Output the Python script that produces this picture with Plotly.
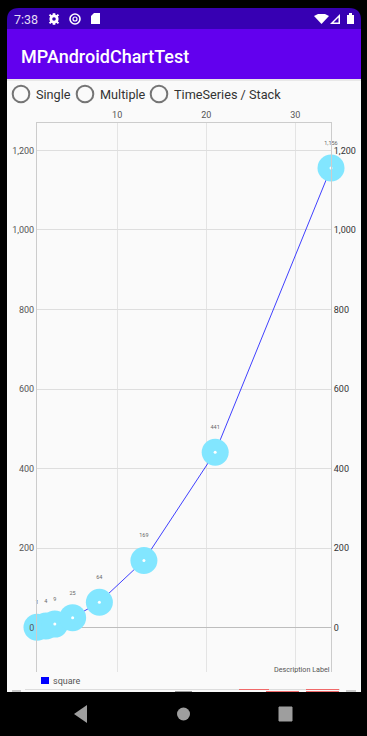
import plotly.graph_objects as go

W, H = 367, 736
x_values = [1, 2, 3, 5, 8, 13, 21, 34]
y_values = [1, 4, 9, 25, 64, 169, 441, 1156]
series_name = "square"
x_ticks = [10, 20, 30]
y_ticks = [0, 200, 400, 600, 800, 1000, 1200]
radio_labels = ["Single", "Multiple", "TimeSeries / Stack"]

PL, PR, PT, PB = 37, 331, 123, 672
XR = [1, 34]
YR = [-111.5, 1269]
FONT = "Roboto"

def px(x):
    return x / W

def py(y):
    return 1 - y / H

def rect(x0, y0, x1, y1, fill):
    return dict(type="rect", xref="paper", yref="paper", x0=px(x0), x1=px(x1), y0=py(y0), y1=py(y1),
                fillcolor=fill, line_width=0, layer="below")

def circ(cx, cy, r, fill="rgba(0,0,0,0)", line=None, lw=0):
    return dict(type="circle", xref="paper", yref="paper", x0=px(cx - r), x1=px(cx + r), y0=py(cy - r), y1=py(cy + r),
                fillcolor=fill, line=dict(color=line or "rgba(0,0,0,0)", width=lw), layer="below")

def poly(points, fill):
    d = "M" + " L".join(f"{px(a):.5f},{py(b):.5f}" for a, b in points) + " Z"
    return dict(type="path", xref="paper", yref="paper", path=d, fillcolor=fill, line_width=0, layer="below")

def note(x, y, text, size, color, anchor="left", weight=None):
    f = dict(family=FONT, size=size, color=color)
    if weight:
        f["weight"] = weight
    return dict(xref="paper", yref="paper", x=px(x), y=py(y), text=text, showarrow=False,
                xanchor=anchor, yanchor="middle", font=f, borderpad=0, borderwidth=0)

fig = go.Figure()

fig.add_trace(go.Scatter(x=x_values, y=y_values, mode="lines", line=dict(color="#2a2aff", width=0.9),
                         cliponaxis=False, hoverinfo="skip", showlegend=False))
for xv, yv in zip(x_values, y_values):
    fig.add_trace(go.Scatter(x=[xv], y=[yv], mode="markers", marker=dict(size=27, color="#82E6FF"),
                             cliponaxis=False, hoverinfo="skip", showlegend=False))
    fig.add_trace(go.Scatter(x=[xv], y=[yv], mode="markers", marker=dict(size=3, color="#FFFFFF"),
                             cliponaxis=False, hoverinfo="skip", showlegend=False))
fig.add_trace(go.Scatter(x=x_values, y=y_values, mode="markers+text", name=series_name,
                         text=[f"{v:,}" for v in y_values], textposition="top center",
                         marker=dict(size=33, opacity=0),
                         textfont=dict(family=FONT, size=5.5, color="#666666"),
                         cliponaxis=False, hoverinfo="skip", showlegend=False))
fig.add_trace(go.Scatter(x=[None], y=[None], yaxis="y2", mode="lines", hoverinfo="skip", showlegend=False))

shapes = [
    dict(type="path", xref="paper", yref="paper",
         path=f"M{px(7)},{py(29)} L{px(7)},{py(20)} Q{px(7)},{py(8)} {px(19)},{py(8)} L{px(349)},{py(8)} "
              f"Q{px(361)},{py(8)} {px(361)},{py(20)} L{px(361)},{py(29)} Z",
         fillcolor="#3700B3", line_width=0, layer="below"),
    rect(7, 29, 361, 79, "#6200EE"),
    rect(7, 79, 361, 692, "#FAFAFA"),
    rect(7, 79, 361, 81, "#E8E8E8"),
    circ(54, 19, 4.6, "#FFFFFF"),
    rect(52.7, 13.2, 55.3, 24.8, "#FFFFFF"),
    poly([(48.8, 15.2), (50.3, 13.9), (59.2, 22.8), (57.7, 24.1)], "#FFFFFF"),
    poly([(59.2, 15.2), (57.7, 13.9), (48.8, 22.8), (50.3, 24.1)], "#FFFFFF"),
    circ(54, 19, 1.8, "#3700B3"),
    circ(75, 19, 5, line="#FFFFFF", lw=1.6),
    circ(75, 19, 2, line="#FFFFFF", lw=1.2),
    poly([(91, 16), (94, 13), (100, 13), (100, 24), (91, 24)], "#FFFFFF"),
    poly([(314, 16), (318, 14), (325, 14), (329, 16), (321.5, 24)], "#FFFFFF"),
    poly([(330, 24), (340, 24), (340, 14)], "#FFFFFF"),
    poly([(333.5, 22.5), (338.5, 22.5), (338.5, 17.5)], "#3700B3"),
    rect(347, 15, 354, 24, "#FFFFFF"),
    rect(349, 13, 352, 15, "#FFFFFF"),
    rect(41, 677, 49, 684, "#0000FF"),
    rect(25, 689, 340, 690, "#DDDDDD"),
    rect(239, 689, 269, 690, "#F06A6A"),
    rect(266, 691, 299, 692, "#F06A6A"),
    rect(306, 689, 339, 690, "#F06A6A"),
    rect(306, 691, 339, 692, "#F06A6A"),
    rect(12, 690, 21, 692, "#C8C8C8"),
    rect(346, 690, 356, 692, "#C8C8C8"),
    rect(175, 691, 192, 692, "#999999"),
    poly([(74, 714), (87, 705), (87, 723)], "#9E9E9E"),
    circ(183.5, 714, 6.5, "#9E9E9E"),
    dict(type="rect", xref="paper", yref="paper", x0=px(279), x1=px(292), y0=py(707), y1=py(721),
         fillcolor="#9E9E9E", line=dict(color="#9E9E9E", width=1), layer="below"),
]
for cx in (21, 85, 159):
    shapes.append(circ(cx, 94, 8.3, line="#757575", lw=2))

annotations = [
    note(14, 19.5, "7:38", 12.5, "#E4DCF5"),
    note(21, 56, "MPAndroidChartTest", 18, "#FFFFFF", weight=500),
    note(36, 94.5, radio_labels[0], 12.7, "#333333"),
    note(99.5, 94.5, radio_labels[1], 12.7, "#333333"),
    note(174, 94.5, radio_labels[2], 12.7, "#333333"),
    note(53, 680.5, series_name, 9, "#555555"),
    note(329.5, 669, "Description Label", 7.2, "#555555", anchor="right"),
]

fig.update_layout(
    width=W, height=H, autosize=False, margin=dict(l=0, r=0, t=0, b=0),
    paper_bgcolor="#000000", plot_bgcolor="rgba(0,0,0,0)", showlegend=False,
    font=dict(family=FONT), shapes=shapes, annotations=annotations,
    xaxis=dict(domain=[px(PL), px(PR)], range=XR, side="top", tickvals=x_ticks, ticks="",
               tickfont=dict(family=FONT, size=9, color="#555555"),
               showgrid=True, gridcolor="#E4E4E4", gridwidth=1, zeroline=False,
               showline=True, linecolor="#CCCCCC", linewidth=1),
    yaxis=dict(domain=[py(PB), py(PT)], range=YR, tickvals=y_ticks, tickformat=",d", ticks="",
               tickfont=dict(family=FONT, size=9, color="#555555"),
               showgrid=True, gridcolor="#DEDEDE", gridwidth=1,
               zeroline=True, zerolinecolor="#BDBDBD", zerolinewidth=1,
               showline=True, linecolor="#CCCCCC", linewidth=1),
    yaxis2=dict(domain=[py(PB), py(PT)], range=YR, overlaying="y", side="right", anchor="x",
                tickvals=y_ticks, tickformat=",d", ticks="",
                tickfont=dict(family=FONT, size=9, color="#333333"),
                showgrid=False, zeroline=False,
                showline=True, linecolor="#CCCCCC", linewidth=1),
)

fig.write_html("out.html", config=dict(displayModeBar=False, responsive=False),
               post_script="document.body.style.margin='0';document.body.style.overflow='hidden';document.body.style.background='#000';")
